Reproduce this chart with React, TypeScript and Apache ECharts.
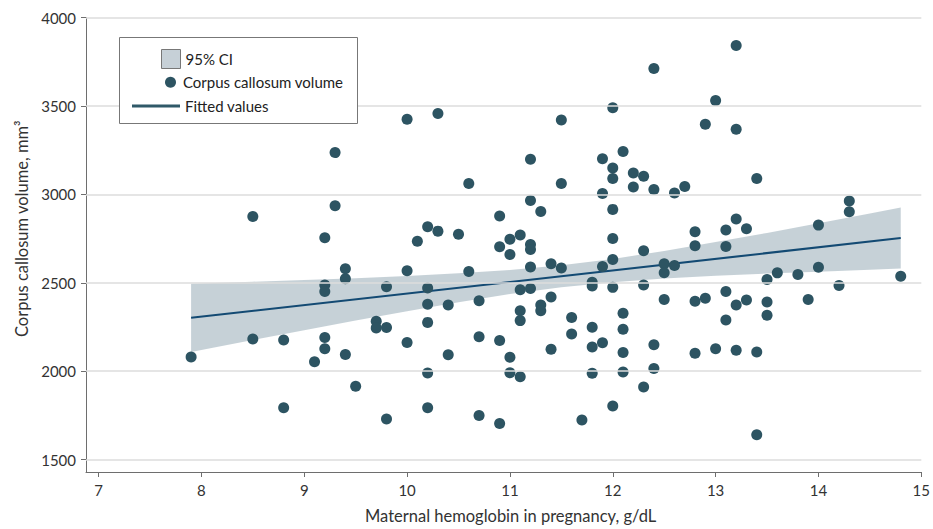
import React, { useEffect, useRef } from "react";
import * as echarts from "echarts";

// Scatter points: maternal hemoglobin (g/dL) and corpus callosum volume (mm³)
const hemoglobin = [
  7.9, 8.5, 8.5, 8.8, 8.8, 9.1, 9.2, 9.2, 9.2, 9.2, 9.2, 9.3, 9.3, 9.4, 9.4, 9.4, 9.5,
  9.7, 9.7, 9.8, 9.8, 9.8, 10.0, 10.0, 10.0, 10.1, 10.2, 10.2, 10.2, 10.2, 10.2, 10.2,
  10.3, 10.3, 10.4, 10.4, 10.5, 10.6, 10.6, 10.7, 10.7, 10.7, 10.9, 10.9, 10.9, 10.9,
  11.0, 11.0, 11.0, 11.0, 11.1, 11.1, 11.1, 11.1, 11.1, 11.2, 11.2, 11.2, 11.2, 11.2, 11.2,
  11.3, 11.3, 11.3, 11.4, 11.4, 11.4, 11.5, 11.5, 11.5, 11.6, 11.6, 11.7,
  11.8, 11.8, 11.8, 11.8, 11.8, 11.9, 11.9, 11.9, 11.9,
  12.0, 12.0, 12.0, 12.0, 12.0, 12.0, 12.0, 12.0, 12.1, 12.1, 12.1, 12.1, 12.1,
  12.2, 12.2, 12.3, 12.3, 12.3, 12.3, 12.4, 12.4, 12.4, 12.4, 12.5, 12.5, 12.5,
  12.6, 12.6, 12.7, 12.8, 12.8, 12.8, 12.8, 12.9, 12.9, 13.0, 13.0,
  13.1, 13.1, 13.1, 13.1, 13.2, 13.2, 13.2, 13.2, 13.2, 13.3, 13.3, 13.4, 13.4, 13.4,
  13.5, 13.5, 13.5, 13.6, 13.8, 13.9, 14.0, 14.0, 14.2, 14.3, 14.3, 14.8,
];
const volume = [
  2080, 2875, 2182, 2177, 1793, 2054, 2755, 2488, 2451, 2190, 2127, 3236, 2936, 2579, 2523, 2094, 1915,
  2283, 2244, 2477, 2247, 1730, 3425, 2568, 2162, 2735, 2817, 2470, 2378, 2276, 1990, 1793,
  3457, 2792, 2374, 2093, 2774, 3061, 2564, 2398, 2195, 1750, 2878, 2704, 2174, 1704,
  2746, 2660, 2079, 1991, 2770, 2461, 2342, 2286, 1968, 3198, 2965, 2716, 2688, 2589, 2467,
  2903, 2374, 2342, 2607, 2419, 2124, 3420, 3061, 2583, 2304, 2210, 1724,
  2503, 2482, 2248, 2137, 1988, 3201, 3005, 2592, 2161,
  3490, 3149, 3090, 2915, 2750, 2632, 2474, 1803, 3242, 2328, 2237, 2106, 1995,
  3121, 3041, 3102, 2681, 2488, 1911, 3711, 3027, 2149, 2015, 2607, 2557, 2405,
  3008, 2598, 3045, 2788, 2709, 2396, 2101, 3396, 2412, 3530, 2127,
  2798, 2705, 2451, 2290, 3842, 3368, 2861, 2374, 2119, 2805, 2403, 3089, 2109, 1641,
  2519, 2391, 2316, 2556, 2547, 2405, 2826, 2588, 2485, 2963, 2902, 2537,
];

// Fitted line end points
const fitX = [7.9, 14.8];
const fitY = [2302, 2753];

// 95% CI band
const ciX = [7.9, 8.5, 9, 9.5, 10, 10.5, 11, 11.5, 12, 12.5, 13, 13.5, 14, 14.5, 14.8];
const ciLower = [2109, 2176, 2232, 2286, 2339, 2390, 2436, 2475, 2503, 2524, 2540, 2552, 2563, 2574, 2580];
const ciUpper = [2495, 2506, 2516, 2526, 2539, 2554, 2572, 2599, 2635, 2680, 2730, 2782, 2836, 2892, 2926];

// Axis ticks
const xTicks = [7, 8, 9, 10, 11, 12, 13, 14, 15];
const yTicks = [1500, 2000, 2500, 3000, 3500, 4000];

const FONT = "Lato";
const DOT = "#2d5462";
const FIT = "#134a73";
const AXIS = "#6e6e6e";

export default function App() {
  const ref = useRef<HTMLDivElement>(null);

  useEffect(() => {
    if (!ref.current) return;
    const chart = echarts.init(ref.current, undefined, { renderer: "svg" });

    const points = hemoglobin.map((x, i) => [x, volume[i]]);
    const fit = fitX.map((x, i) => [x, fitY[i]]);

    const legendText = { fontFamily: FONT, fontSize: 15, color: "#222", lineHeight: 16 };

    chart.setOption({
      animation: false,
      textStyle: { fontFamily: FONT },
      grid: { left: 86, right: 7.2, top: 17.5, bottom: 52, containLabel: false },
      xAxis: {
        type: "value",
        min: 6.878,
        max: 15,
        name: "Maternal hemoglobin in pregnancy, g/dL",
        nameLocation: "middle",
        nameGap: 35,
        nameTextStyle: { fontFamily: FONT, fontSize: 16.5, color: "#333", padding: [0, 0, 0, 14] },
        axisLine: { show: true, onZero: false, lineStyle: { color: AXIS, width: 1 } },
        axisTick: { show: true, length: 5, customValues: xTicks, lineStyle: { color: AXIS } },
        axisLabel: {
          customValues: xTicks,
          margin: 10,
          fontFamily: FONT,
          fontSize: 15,
          color: "#333",
          formatter: (v: number) => String(v),
        },
        splitLine: { show: false },
      },
      yAxis: {
        type: "value",
        min: 1430,
        max: 4000,
        name: "Corpus callosum volume, mm³",
        nameLocation: "middle",
        nameRotate: 90,
        nameGap: 55,
        nameTextStyle: { fontFamily: FONT, fontSize: 16.5, color: "#333", padding: [0, 0, 0, 32] },
        axisLine: { show: true, onZero: false, lineStyle: { color: AXIS, width: 1 } },
        axisTick: { show: true, length: 5, customValues: yTicks, lineStyle: { color: AXIS } },
        axisLabel: {
          customValues: yTicks,
          margin: 10,
          fontFamily: FONT,
          fontSize: 15,
          color: "#333",
          formatter: (v: number) => String(v),
        },
        splitLine: { show: false },
      },
      legend: [
        {
          z: 20,
          left: 161,
          top: 49,
          padding: 0,
          selectedMode: false,
          itemWidth: 19,
          itemHeight: 19,
          textStyle: legendText,
          data: [
            {
              name: "95% CI",
              icon: "rect",
              itemStyle: { color: "#c6d0d7", borderColor: "#777", borderWidth: 1 },
            },
          ],
        },
        {
          z: 20,
          left: 165,
          top: 74.3,
          padding: 0,
          selectedMode: false,
          itemWidth: 15,
          itemHeight: 11,
          textStyle: legendText,
          data: [{ name: "Corpus callosum volume", icon: "circle", itemStyle: { color: DOT } }],
        },
        {
          z: 20,
          left: 132,
          top: 98,
          padding: 0,
          selectedMode: false,
          itemWidth: 48,
          itemHeight: 3,
          textStyle: legendText,
          data: [{ name: "Fitted values", icon: "rect", itemStyle: { color: "#2f5968" } }],
        },
      ],
      graphic: [
        {
          type: "rect",
          z: 10,
          shape: { x: 119.5, y: 37.5, width: 238, height: 86 },
          style: { fill: "#fff", stroke: "#777", lineWidth: 1 },
        },
      ],
      series: [
        {
          type: "scatter",
          name: "gridlines",
          data: [],
          silent: true,
          z: 0,
          markLine: {
            silent: true,
            symbol: ["none", "none"],
            label: { show: false },
            lineStyle: { color: "#dcdcdc", width: 1.5, type: "solid" },
            emphasis: { disabled: true },
            data: yTicks.map((v) => ({ yAxis: v })),
          },
        },
        {
          type: "custom",
          name: "95% CI",
          z: 1,
          silent: true,
          data: [[ciX[0], ciLower[0]]],
          itemStyle: { color: "#c6d0d7" },
          renderItem: (_params: any, api: any) => {
            const pts: number[][] = [];
            for (let i = 0; i < ciX.length; i++) pts.push(api.coord([ciX[i], ciUpper[i]]));
            for (let i = ciX.length - 1; i >= 0; i--) pts.push(api.coord([ciX[i], ciLower[i]]));
            return {
              type: "polygon",
              shape: { points: pts },
              style: { fill: "rgba(120,145,160,0.42)" },
            };
          },
        },
        {
          type: "line",
          name: "Fitted values",
          z: 2,
          silent: true,
          data: fit,
          symbol: "none",
          lineStyle: { color: FIT, width: 2 },
          itemStyle: { color: FIT },
        },
        {
          type: "scatter",
          name: "Corpus callosum volume",
          z: 3,
          silent: true,
          data: points,
          symbol: "circle",
          symbolSize: 11,
          itemStyle: { color: DOT, opacity: 1 },
        },
      ],
    });

    return () => chart.dispose();
  }, []);

  return (
    <div
      ref={ref}
      style={{ position: "fixed", left: 0, top: 0, width: 933, height: 529, background: "#fff" }}
    />
  );
}
